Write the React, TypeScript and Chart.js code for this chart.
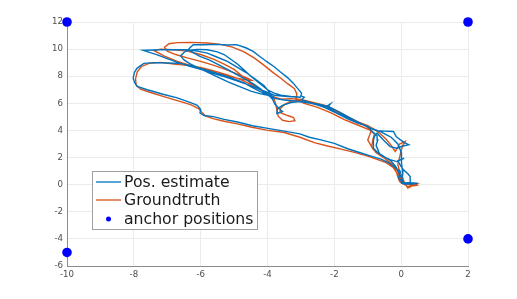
import React, { useEffect, useRef } from "react";
import { Chart, registerables } from "chart.js";

Chart.register(...registerables);

const xTicks = [-10, -8, -6, -4, -2, 0, 2];
const yTicks = [-6, -4, -2, 0, 2, 4, 6, 8, 10, 12];

const legendLabels = ["Pos. estimate", "Groundtruth", "anchor positions"];

const anchors: [number, number][] = [
  [-10, 12], [2, 12], [-10, -5], [2, -4],
];

const groundtruth: [number, number][] = [
  [0.2, 0.0], [0.45, 0.05], [0.35, -0.05], [0.2, -0.25], [0.15, -0.05], [0.05, 0.05],
  [-0.05, 0.25], [-0.1, 0.6], [-0.15, 0.95], [-0.25, 1.3], [-0.45, 1.62], [-0.7, 1.85],
  [-1.0, 2.1], [-1.4, 2.38], [-1.8, 2.62], [-2.2, 2.85], [-2.6, 3.1], [-3.03, 3.5],
  [-3.5, 3.85], [-4.03, 4.02], [-4.5, 4.25], [-4.9, 4.48], [-5.3, 4.68], [-5.6, 4.85],
  [-5.85, 5.05], [-5.95, 5.3], [-6.05, 5.6], [-6.3, 5.9], [-6.7, 6.2], [-7.1, 6.5],
  [-7.5, 6.8], [-7.8, 7.05], [-7.93, 7.35], [-7.95, 7.8], [-7.9, 8.3], [-7.78, 8.7],
  [-7.55, 8.95], [-7.2, 9.02], [-6.8, 8.9], [-6.4, 8.8], [-6.0, 8.65], [-5.6, 8.4],
  [-5.2, 8.1], [-4.8, 7.75], [-4.5, 7.4], [-4.2, 7.0], [-3.95, 6.65], [-3.8, 6.3],
  [-3.75, 5.9], [-3.72, 5.5], [-3.68, 5.05], [-3.55, 4.75], [-3.35, 4.65], [-3.18, 4.72],
  [-3.22, 4.95], [-3.4, 5.1], [-3.6, 5.3], [-3.62, 5.6], [-3.5, 5.9], [-3.3, 6.15],
  [-3.0, 6.22], [-2.6, 6.0], [-2.2, 5.7], [-1.9, 5.3], [-1.6, 4.95], [-1.3, 4.6],
  [-1.05, 4.35], [-0.9, 4.0], [-0.95, 3.6], [-1.0, 3.3], [-0.92, 2.95], [-0.85, 2.65],
  [-0.7, 2.3], [-0.5, 1.95], [-0.33, 1.6], [-0.2, 1.2], [-0.12, 0.8], [-0.05, 0.4],
  [0.05, 0.1], [0.3, 0.05], [0.45, -0.05], [0.2, -0.15], [0.05, 0.15], [-0.05, 0.6],
  [-0.1, 1.0], [-0.25, 1.5], [-0.5, 1.95], [-0.75, 2.35], [-0.88, 2.8], [-0.85, 3.3],
  [-0.8, 3.75], [-0.95, 4.05], [-1.3, 4.4], [-1.7, 4.8], [-2.1, 5.3], [-2.5, 5.7],
  [-2.9, 6.0], [-3.15, 6.3], [-3.12, 6.7], [-3.2, 7.1], [-3.4, 7.45], [-3.6, 7.85],
  [-3.85, 8.3], [-4.1, 8.8], [-4.4, 9.35], [-4.7, 9.8], [-5.05, 10.15], [-5.4, 10.35],
  [-5.8, 10.45], [-6.3, 10.5], [-6.7, 10.48], [-6.95, 10.4], [-7.08, 10.15], [-7.0, 9.85],
  [-6.75, 9.6], [-6.4, 9.35], [-6.0, 9.1], [-5.6, 8.8], [-5.2, 8.45], [-4.85, 8.1],
  [-4.6, 7.85], [-4.48, 7.7], [-4.7, 7.75], [-5.1, 7.95], [-5.5, 8.2], [-5.9, 8.5],
  [-6.3, 8.8], [-6.7, 9.1], [-7.1, 9.5], [-7.4, 9.9], [-7.2, 10.0], [-6.8, 9.95],
  [-6.4, 9.85], [-6.0, 9.6], [-5.6, 9.25], [-5.3, 8.9], [-5.0, 8.5], [-4.75, 8.0],
  [-4.5, 7.5], [-4.2, 7.0], [-3.9, 6.55], [-3.6, 6.3], [-3.3, 6.35], [-3.0, 6.28],
  [-2.6, 6.05], [-2.2, 5.8], [-1.85, 5.35], [-1.55, 4.95], [-1.25, 4.6], [-1.0, 4.35],
  [-0.75, 4.0], [-0.6, 3.7], [-0.45, 3.35], [-0.3, 2.9], [-0.18, 2.45], [-0.1, 2.75],
  [-0.05, 3.0], [0.12, 3.18], [0.05, 2.9], [0.0, 2.5], [-0.05, 2.0], [-0.1, 1.5],
  [-0.05, 1.0], [0.05, 0.5], [0.1, 0.1], [0.3, -0.05], [0.5, 0.05], [0.25, 0.0],
];

const estimate: [number, number][] = [
  [0.0, 0.1], [0.2, 0.15], [0.5, 0.1], [0.3, 0.05], [0.05, 0.15], [-0.08, 0.5],
  [-0.02, 0.97], [-0.2, 1.3], [-0.4, 1.65], [-0.6, 1.88], [-0.9, 2.1], [-1.25, 2.37],
  [-1.6, 2.65], [-2.0, 3.05], [-2.4, 3.3], [-2.75, 3.5], [-3.03, 3.75], [-3.5, 3.95],
  [-4.03, 4.17], [-4.45, 4.35], [-4.9, 4.62], [-5.3, 4.82], [-5.62, 5.02], [-5.9, 5.1],
  [-6.02, 5.3], [-6.0, 5.55], [-6.1, 5.85], [-6.3, 6.05], [-6.7, 6.4], [-7.1, 6.65],
  [-7.6, 7.0], [-7.9, 7.25], [-7.97, 7.5], [-8.02, 7.86], [-7.98, 8.3], [-7.9, 8.6],
  [-7.7, 8.95], [-7.4, 9.0], [-7.0, 8.97], [-6.62, 8.95], [-6.25, 8.75], [-5.9, 8.5],
  [-5.5, 8.2], [-5.1, 7.9], [-4.7, 7.5], [-4.45, 7.15], [-4.2, 6.85], [-3.95, 6.55],
  [-3.85, 6.3], [-3.78, 5.95], [-3.65, 5.6], [-3.55, 5.4], [-3.72, 5.25], [-3.7, 5.6],
  [-3.55, 5.85], [-3.3, 6.05], [-3.03, 6.14], [-2.7, 6.0], [-2.4, 5.82], [-2.23, 5.77],
  [-2.12, 5.95], [-2.2, 5.7], [-1.93, 5.28], [-1.7, 5.1], [-1.43, 4.78], [-1.2, 4.5],
  [-0.93, 4.17], [-0.7, 3.98], [-0.5, 3.95], [-0.23, 3.92], [-0.15, 3.55], [-0.02, 3.3],
  [0.1, 3.1], [0.23, 2.94], [0.05, 2.85], [-0.13, 2.69], [-0.33, 2.81], [-0.45, 3.1],
  [-0.53, 3.3], [-0.72, 3.8], [-0.8, 3.55], [-0.83, 3.3], [-0.83, 2.69], [-0.7, 2.35],
  [-0.53, 2.07], [-0.33, 1.85], [-0.13, 1.7], [0.09, 1.95], [-0.1, 1.75], [-0.02, 1.4],
  [0.07, 1.09], [0.2, 0.8], [0.27, 0.6], [0.27, 0.15], [0.47, 0.1], [0.1, 0.05],
  [-0.05, 0.8], [-0.15, 1.3], [-0.3, 1.75], [-0.5, 2.05], [-0.65, 2.3], [-0.75, 2.9],
  [-0.7, 3.3], [-0.72, 3.6], [-0.88, 3.95], [-1.0, 4.3], [-1.3, 4.55], [-1.6, 4.85],
  [-1.95, 5.3], [-2.3, 5.7], [-2.65, 6.0], [-2.98, 6.26], [-2.9, 6.45], [-3.0, 6.55],
  [-2.98, 6.75], [-3.1, 7.1], [-3.23, 7.49], [-3.4, 7.9], [-3.63, 8.35], [-3.8, 8.7],
  [-4.03, 9.09], [-4.2, 9.4], [-4.43, 9.83], [-4.65, 10.1], [-4.93, 10.33], [-5.2, 10.3],
  [-5.52, 10.35], [-5.9, 10.32], [-6.22, 10.33], [-6.32, 10.1], [-6.37, 9.96], [-6.2, 9.7],
  [-6.02, 9.46], [-5.75, 9.2], [-5.5, 8.9], [-5.2, 8.5], [-4.9, 8.1], [-4.6, 7.7],
  [-4.4, 7.4], [-4.2, 7.05], [-4.1, 6.8], [-3.9, 6.55], [-4.2, 6.7], [-4.5, 6.9],
  [-4.85, 7.25], [-5.2, 7.6], [-5.5, 7.95], [-5.8, 8.3], [-6.05, 8.6], [-6.3, 8.9],
  [-6.5, 9.2], [-6.6, 9.5], [-6.5, 9.75], [-6.4, 9.9], [-6.1, 9.98], [-5.8, 9.95],
  [-5.5, 9.8], [-5.3, 9.6], [-5.1, 9.25], [-4.9, 8.9], [-4.7, 8.45], [-4.5, 8.0],
  [-4.25, 7.5], [-4.0, 7.0], [-3.8, 6.75], [-3.6, 6.6], [-3.3, 6.5], [-3.0, 6.45],
  [-3.4, 6.5], [-3.8, 6.6], [-4.15, 6.95], [-4.5, 7.3], [-4.85, 7.6], [-5.2, 7.9],
  [-5.6, 8.2], [-6.0, 8.5], [-6.3, 8.72], [-6.62, 8.97], [-7.0, 9.3], [-7.32, 9.59],
  [-7.72, 9.91], [-7.4, 9.93], [-7.12, 9.96], [-6.8, 9.95], [-6.42, 9.96], [-6.1, 9.85],
  [-5.8, 9.7], [-5.5, 9.4], [-5.2, 9.1], [-4.9, 8.65], [-4.6, 8.2], [-4.35, 7.75],
  [-4.1, 7.3], [-3.95, 6.85], [-3.83, 6.38], [-3.5, 6.25], [-3.03, 6.14], [-2.6, 6.0],
  [-2.2, 5.8], [-1.85, 5.35], [-1.5, 4.9], [-1.25, 4.55], [-1.0, 4.25], [-0.8, 4.05],
  [-0.6, 3.9], [-0.45, 3.7], [-0.3, 3.5], [-0.2, 3.25], [-0.1, 3.0], [-0.05, 2.7],
  [0.0, 2.4], [0.02, 2.0], [0.0, 1.6], [0.03, 1.2], [0.05, 0.8], [0.02, 0.4],
  [0.0, 0.1],
];

const BLUE = "#0072BD";
const ORANGE = "#D95319";

const legendPlugin = {
  id: "matlabLegend",
  afterDraw(chart: any) {
    const ctx = chart.ctx;
    ctx.save();
    const x0 = 92, y0 = 171, w = 165, h = 58;
    ctx.fillStyle = "#ffffff";
    ctx.fillRect(x0, y0, w, h);
    ctx.strokeStyle = "#a0a0a0";
    ctx.lineWidth = 1;
    ctx.strokeRect(x0 + 0.5, y0 + 0.5, w, h);
    const rows = [182, 200, 219];
    ctx.lineWidth = 1.3;
    ctx.strokeStyle = BLUE;
    ctx.beginPath(); ctx.moveTo(96, rows[0]); ctx.lineTo(121, rows[0]); ctx.stroke();
    ctx.strokeStyle = ORANGE;
    ctx.beginPath(); ctx.moveTo(96, rows[1]); ctx.lineTo(121, rows[1]); ctx.stroke();
    ctx.fillStyle = "#0000ff";
    ctx.beginPath(); ctx.arc(108.5, rows[2], 2.5, 0, Math.PI * 2); ctx.fill();
    ctx.fillStyle = "#1a1a1a";
    ctx.font = "15.7px 'DejaVu Sans'";
    ctx.textBaseline = "middle";
    ctx.textAlign = "left";
    legendLabels.forEach((t, i) => ctx.fillText(t, 124, rows[i] + 0.5));
    ctx.restore();
  },
};

export default function App() {
  const ref = useRef<HTMLCanvasElement>(null);
  useEffect(() => {
    document.body.style.margin = "0";
    const toPts = (a: [number, number][]) => a.map(([x, y]) => ({ x, y }));
    const tickFont = { family: "'DejaVu Sans'", size: 8.6 };
    const chart = new Chart(ref.current!, {
      type: "scatter",
      data: {
        datasets: [
          {
            label: legendLabels[0],
            data: toPts(estimate),
            showLine: true,
            borderColor: BLUE,
            borderWidth: 1.4,
            pointRadius: 0,
            tension: 0,
          },
          {
            label: legendLabels[1],
            data: toPts(groundtruth),
            showLine: true,
            borderColor: ORANGE,
            borderWidth: 1.4,
            pointRadius: 0,
            tension: 0,
          },
          {
            label: legendLabels[2],
            data: toPts(anchors),
            showLine: false,
            pointRadius: 4.8,
            pointBackgroundColor: "#0000ff",
            pointBorderWidth: 0,
            clip: false,
          } as any,
        ],
      },
      options: {
        animation: false,
        responsive: false,
        layout: { padding: { left: 0, top: 22, right: 49, bottom: 0 } },
        plugins: { legend: { display: false }, tooltip: { enabled: false } },
        scales: {
          x: {
            type: "linear",
            min: -10,
            max: 2,
            afterFit: (s: any) => { s.height = 33; },
            afterBuildTicks: (s: any) => { s.ticks = xTicks.map((v) => ({ value: v })); },
            ticks: { font: tickFont, color: "#4d4d4d", padding: 4, maxRotation: 0 },
            grid: { color: "#ebebeb", drawTicks: false },
            border: { color: "#8c8c8c", width: 1 },
          },
          y: {
            type: "linear",
            min: -6,
            max: 12,
            afterFit: (s: any) => { s.width = 67; },
            afterBuildTicks: (s: any) => { s.ticks = yTicks.map((v) => ({ value: v })); },
            ticks: { font: tickFont, color: "#4d4d4d", padding: 4 },
            grid: { color: "#ebebeb", drawTicks: false },
            border: { color: "#8c8c8c", width: 1 },
          },
        },
      } as any,
      plugins: [legendPlugin],
    });
    return () => chart.destroy();
  }, []);
  return (
    <div style={{ position: "fixed", left: 0, top: 0, width: 517, height: 299, background: "#fff" }}>
      <canvas ref={ref} width={517} height={299} />
    </div>
  );
}
